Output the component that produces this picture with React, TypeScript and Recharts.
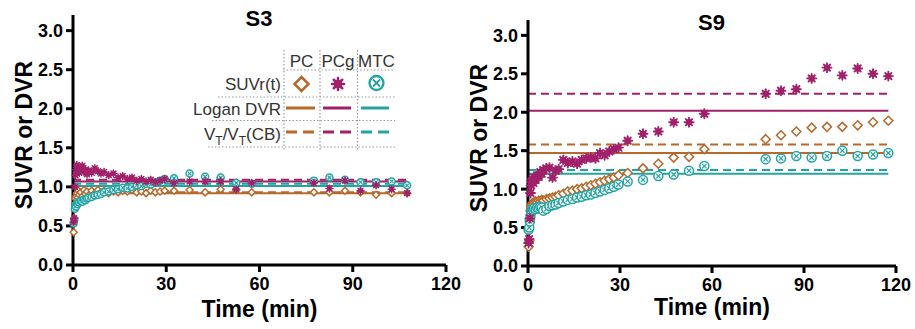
import React from 'react';
import { ScatterChart, Scatter, XAxis, YAxis, ReferenceLine } from 'recharts';

const BROWN = '#B5692B';
const MAGENTA = '#A0216A';
const TEAL = '#24A3A3';
const FONT = '"Liberation Sans", Arial, sans-serif';

// frame mid-times (min)
const s3Times = [
  0.2, 0.4, 0.6, 0.8, 1.0, 1.25, 1.5, 1.75, 2.0, 2.5, 3.0, 3.5, 4.0, 4.5, 5.0, 6.0, 7.0, 8.0, 9.0, 10.0,
  11.5, 13.0, 14.5, 16.0, 17.5, 19.0, 20.5, 22.0, 23.5, 25.0, 26.5, 28.0, 29.5,
  32.5, 37.5, 42.5, 47.5, 52.5, 57.5, 77.5, 82.5, 87.5, 92.5, 97.5, 102.5, 107.5,
];
const s9Times = [
  0.2, 0.4, 0.6, 0.8, 1.0, 1.25, 1.5, 1.75, 2.0, 2.5, 3.0, 3.5, 4.0, 4.5, 5.0, 6.0, 7.0, 8.0, 9.0, 10.0,
  11.5, 13.0, 14.5, 16.0, 17.5, 19.0, 20.5, 22.0, 23.5, 25.0, 26.5, 28.0, 29.5,
  32.5, 37.5, 42.5, 47.5, 52.5, 57.5, 77.5, 82.5, 87.5, 92.5, 97.5, 102.5, 107.5, 112.5, 117.5,
];

// S3 SUVr(t)
const s3PC = [
  0.42, 0.6, 0.78, 0.85, 0.88, 0.92, 0.86, 0.95, 0.9, 0.93, 0.88, 0.96, 0.91, 0.94, 0.89, 0.95, 0.92, 0.96, 0.93, 0.95,
  0.92, 0.94, 0.93, 0.95, 0.94, 0.96, 0.93, 0.94, 0.92, 0.95, 0.93, 0.94, 0.95,
  0.95, 0.96, 0.93, 0.97, 0.96, 0.93, 0.93, 0.93, 0.95, 0.93, 0.9, 0.92, 0.92,
];
const s3PCg = [
  0.55, 0.6, 1.0, 1.15, 1.22, 1.28, 1.2, 1.25, 1.18, 1.24, 1.27, 1.19, 1.22, 1.16, 1.21, 1.18, 1.24, 1.2, 1.17, 1.19,
  1.15, 1.17, 1.12, 1.14, 1.1, 1.12, 1.08, 1.1, 1.07, 1.09, 1.06, 1.08, 1.1,
  1.05, 1.07, 1.07, 1.07, 0.97, 1.05, 1.05, 0.98, 1.08, 0.95, 1.02, 0.97, 0.92,
];
const s3MTC = [
  0.53, 0.58, 0.72, 0.76, 0.75, 0.79, 0.78, 0.81, 0.8, 0.82, 0.81, 0.84, 0.83, 0.85, 0.86, 0.87, 0.89, 0.9, 0.91, 0.93,
  0.94, 0.96, 0.97, 0.99, 0.98, 1.0, 1.02, 1.01, 1.04, 1.03, 1.06, 1.08, 1.1,
  1.11, 1.17, 1.13, 1.12, 1.05, 1.04, 1.08, 1.12, 1.09, 1.06, 1.06, 1.07, 1.02,
];

// S9 SUVr(t)
const s9PC = [
  0.25, 0.33, 0.6, 0.72, 0.78, 0.8, 0.82, 0.81, 0.83, 0.84, 0.83, 0.85, 0.84, 0.86, 0.85, 0.87, 0.88, 0.89, 0.9, 0.92,
  0.94, 0.97, 0.98, 1.0, 1.01, 1.03, 1.05, 1.07, 1.09, 1.11, 1.13, 1.15, 1.18,
  1.21, 1.27, 1.33, 1.41, 1.42, 1.52, 1.65, 1.7, 1.75, 1.8, 1.81, 1.81, 1.83, 1.87, 1.89,
];
const s9PCg = [
  0.3, 0.35, 0.62, 0.95, 1.05, 1.1, 1.13, 1.08, 1.15, 1.12, 1.18, 1.16, 1.22, 1.2, 1.25, 1.27, 1.28, 1.15, 1.24, 1.26,
  1.38, 1.34, 1.36, 1.33, 1.38, 1.4, 1.41, 1.4, 1.47, 1.44, 1.49, 1.52, 1.54,
  1.63, 1.72, 1.75, 1.87, 1.87, 1.98, 2.24, 2.28, 2.3, 2.44, 2.58, 2.48, 2.57, 2.5, 2.47,
];
const s9MTC = [
  0.47, 0.5, 0.58, 0.65, 0.7, 0.72, 0.74, 0.73, 0.75, 0.74, 0.76, 0.75, 0.77, 0.76, 0.72, 0.74, 0.78, 0.79, 0.8, 0.82,
  0.84, 0.86, 0.87, 0.89, 0.9, 0.92, 0.93, 0.95, 0.97, 0.99, 1.01, 1.03, 1.06,
  1.1, 1.12, 1.17, 1.19, 1.24, 1.3, 1.39, 1.4, 1.43, 1.41, 1.43, 1.5, 1.43, 1.45, 1.47,
];

// [PC, PCg, MTC]
const s3Logan = [0.92, 1.07, 1.01];
const s3Vt = [0.93, 1.09, 1.04];
const s9Logan = [1.47, 2.02, 1.2];
const s9Vt = [1.58, 2.24, 1.25];

const xTicks = [0, 30, 60, 90, 120];
const yTicks = [0, 0.5, 1.0, 1.5, 2.0, 2.5, 3.0];
const regions = ['PC', 'PCg', 'MTC'];
const colors = [BROWN, MAGENTA, TEAL];

const toPoints = (times: number[], vals: number[]) => vals.map((v, i) => ({ t: times[i], v }));

const Diamond = ({ cx, cy, r, sw }: any) => (
  <path
    d={`M${cx},${cy - r}L${cx + r},${cy}L${cx},${cy + r}L${cx - r},${cy}Z`}
    fill="#fff"
    stroke={BROWN}
    strokeWidth={sw}
  />
);

const Star = ({ cx, cy, r }: any) => (
  <g stroke={MAGENTA} strokeWidth={r * 0.42} strokeLinecap="round">
    {[0, 45, 90, 135].map((a) => {
      const rad = (a * Math.PI) / 180;
      const dx = r * Math.cos(rad);
      const dy = r * Math.sin(rad);
      return <line key={a} x1={cx - dx} y1={cy - dy} x2={cx + dx} y2={cy + dy} />;
    })}
    <circle cx={cx} cy={cy} r={r * 0.5} fill={MAGENTA} />
  </g>
);

const CrossCircle = ({ cx, cy, r, sw }: any) => {
  const k = r * 0.5;
  return (
    <g stroke={TEAL} strokeWidth={sw}>
      <circle cx={cx} cy={cy} r={r} fill="#fff" />
      <line x1={cx - k} y1={cy - k} x2={cx + k} y2={cy + k} strokeWidth={sw * 0.8} />
      <line x1={cx - k} y1={cy + k} x2={cx + k} y2={cy - k} strokeWidth={sw * 0.8} />
    </g>
  );
};

const tickStyle = { fill: '#000', fontSize: 18, fontWeight: 700, fontFamily: FONT };
const labelStyle = { fill: '#000', fontSize: 23, fontWeight: 700, fontFamily: FONT };

type PanelProps = {
  times: number[];
  pc: number[];
  pcg: number[];
  mtc: number[];
  logan: number[];
  vt: number[];
  left: number;
  width: number;
  top: number;
  right: number;
  xAxisHeight: number;
  xLabelOffset: number;
  ms: number;
};

const Panel = ({ times, pc, pcg, mtc, logan, vt, left, width, top, right, xAxisHeight, xLabelOffset, ms }: PanelProps) => {
  const end = times[times.length - 1];
  return (
    <div style={{ position: 'absolute', left, top: 0 }}>
      <ScatterChart width={width} height={329} margin={{ top, right, bottom: 0, left: 0 }}>
        <XAxis
          type="number"
          dataKey="t"
          domain={[0, 120]}
          ticks={xTicks}
          interval={0}
          axisLine={{ stroke: '#000', strokeWidth: 3 }}
          tickLine={{ stroke: '#000', strokeWidth: 3 }}
          tickSize={7}
          tickMargin={5}
          tick={tickStyle}
          height={xAxisHeight}
          label={{ value: 'Time (min)', position: 'insideBottom', offset: xLabelOffset, style: labelStyle }}
        />
        <YAxis
          type="number"
          dataKey="v"
          domain={[0, 3.2]}
          ticks={yTicks}
          interval={0}
          tickFormatter={(v: number) => v.toFixed(1)}
          axisLine={{ stroke: '#000', strokeWidth: 3 }}
          tickLine={{ stroke: '#000', strokeWidth: 3 }}
          tickSize={7}
          tickMargin={3}
          tick={tickStyle}
          width={73}
          label={{ value: 'SUVR or DVR', angle: -90, position: 'center', dx: -13, dy: -5, style: labelStyle }}
        />
        {logan.map((y, i) => (
          <ReferenceLine
            key={'l' + i}
            segment={[{ x: 0, y }, { x: end, y }]}
            stroke={colors[i]}
            strokeWidth={2}
          />
        ))}
        {vt.map((y, i) => (
          <ReferenceLine
            key={'v' + i}
            segment={[{ x: 0, y }, { x: end, y }]}
            stroke={colors[i]}
            strokeWidth={2}
            strokeDasharray="8 5"
          />
        ))}
        <Scatter
          name="PC"
          data={toPoints(times, pc)}
          isAnimationActive={false}
          shape={(p: any) => <Diamond cx={p.cx} cy={p.cy} r={ms} sw={1.5} />}
        />
        <Scatter
          name="MTC"
          data={toPoints(times, mtc)}
          isAnimationActive={false}
          shape={(p: any) => <CrossCircle cx={p.cx} cy={p.cy} r={ms} sw={1.5} />}
        />
        <Scatter
          name="PCg"
          data={toPoints(times, pcg)}
          isAnimationActive={false}
          shape={(p: any) => <Star cx={p.cx} cy={p.cy} r={ms} />}
        />
      </ScatterChart>
    </div>
  );
};

const dotted = { stroke: '#9a9a9a', strokeWidth: 1.2, strokeDasharray: '1.5 2' };
const legendText = { fill: '#333', fontSize: 17, fontFamily: FONT };
const colX = [301.5, 338, 376.5];
const lineX = [
  [286, 315],
  [323, 351],
  [361, 389],
];

const Overlay = () => (
  <svg
    width={915}
    height={329}
    style={{ position: 'absolute', left: 0, top: 0, pointerEvents: 'none' }}
  >
    <text x={259} y={26} textAnchor="middle" style={{ ...labelStyle, fontSize: 22 }}>S3</text>
    <text x={711.5} y={30} textAnchor="middle" style={{ ...labelStyle, fontSize: 22 }}>S9</text>

    {/* legend table grid */}
    <line x1={283} y1={70} x2={395} y2={70} {...dotted} />
    <line x1={218} y1={97} x2={395} y2={97} {...dotted} />
    <line x1={212} y1={120.5} x2={395} y2={120.5} {...dotted} />
    <line x1={208} y1={147} x2={395} y2={147} {...dotted} />
    {[284, 320, 357.5].map((x) => (
      <line key={x} x1={x} y1={50} x2={x} y2={150} {...dotted} />
    ))}

    {regions.map((r, i) => (
      <text key={r} x={colX[i]} y={66.5} textAnchor="middle" style={legendText}>{r}</text>
    ))}
    <text x={281} y={90} textAnchor="end" style={legendText}>SUVr(t)</text>
    <text x={281} y={115} textAnchor="end" style={legendText}>Logan DVR</text>
    <text x={281} y={140} textAnchor="end" style={legendText}>
      V<tspan fontSize={12} dy={5}>T</tspan>
      <tspan dy={-5}>/V</tspan>
      <tspan fontSize={12} dy={5}>T</tspan>
      <tspan dy={-5}>(CB)</tspan>
    </text>

    <Diamond cx={colX[0]} cy={84} r={7} sw={2.5} />
    <Star cx={colX[1]} cy={84} r={6} />
    <CrossCircle cx={colX[2]} cy={83} r={7} sw={2.3} />

    {lineX.map(([a, b], i) => (
      <g key={i}>
        <line x1={a} y1={108} x2={b} y2={108} stroke={colors[i]} strokeWidth={3} />
        <line x1={a} y1={132} x2={b} y2={132} stroke={colors[i]} strokeWidth={3} strokeDasharray="11 6" />
      </g>
    ))}
  </svg>
);

export default function App() {
  return (
    <div style={{ position: 'absolute', left: 0, top: 0, width: 915, height: 329, background: '#fff' }}>
      <Panel
        times={s3Times}
        pc={s3PC}
        pcg={s3PCg}
        mtc={s3MTC}
        logan={s3Logan}
        vt={s3Vt}
        left={0}
        width={470}
        top={15}
        right={24}
        xAxisHeight={64}
        xLabelOffset={12}
        ms={3.5}
      />
      <Panel
        times={s9Times}
        pc={s9PC}
        pcg={s9PCg}
        mtc={s9MTC}
        logan={s9Logan}
        vt={s9Vt}
        left={455}
        width={460}
        top={20}
        right={19}
        xAxisHeight={63}
        xLabelOffset={14}
        ms={4.5}
      />
      <Overlay />
    </div>
  );
}
